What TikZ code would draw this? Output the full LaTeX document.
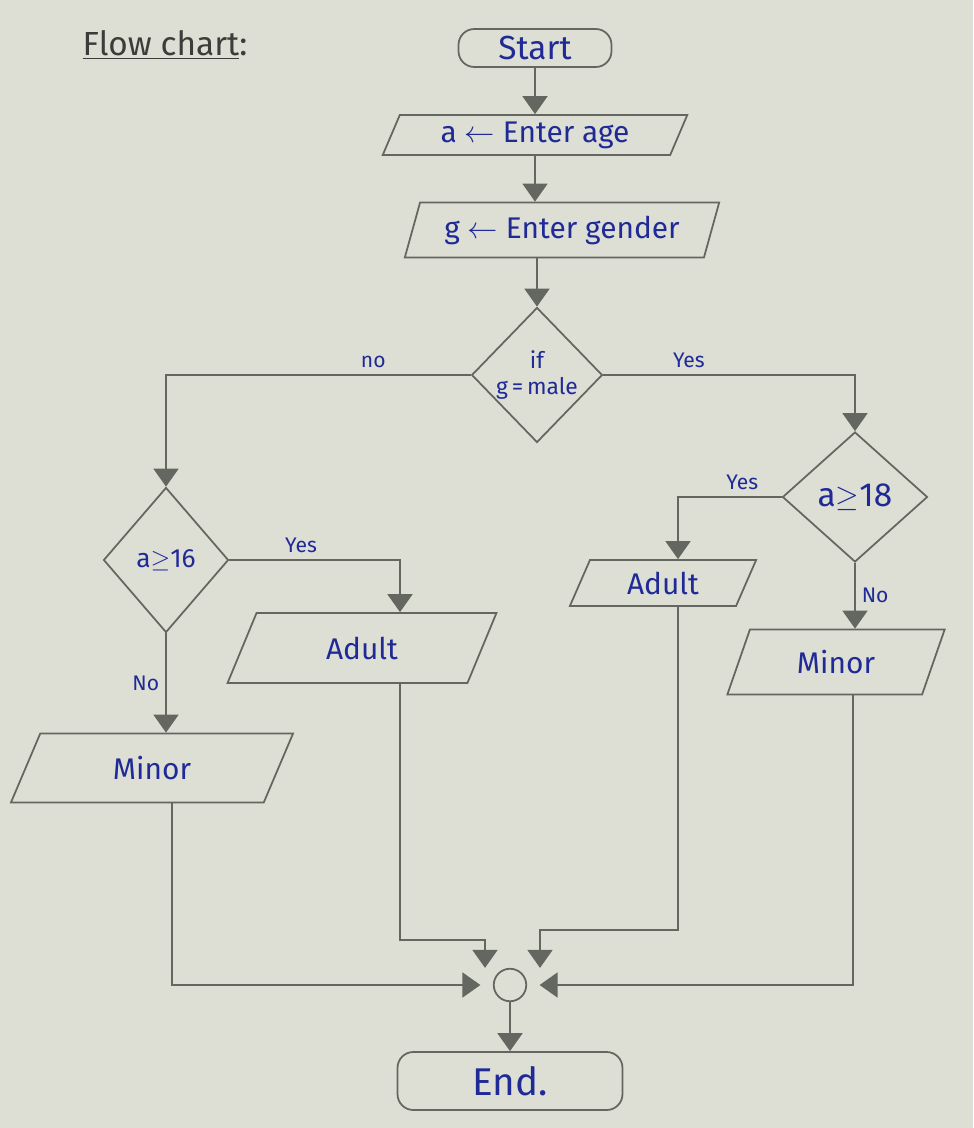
\documentclass[tikz,border=0pt]{standalone}
\usepackage{fontspec}
\setmainfont{Fira Sans}
\usetikzlibrary{positioning, shapes.geometric, arrows.meta}

\definecolor{paper}{RGB}{221,223,213}
\definecolor{pencil}{RGB}{100,102,96}
\definecolor{ink}{RGB}{32,42,150}

\begin{document}
\begin{tikzpicture}[
		x=0.02cm, y=-0.02cm,
		font=\fontsize{17}{19}\selectfont,
		term/.style={draw=pencil, line width=1pt, rectangle, rounded corners=9pt, text=ink},
		io/.style={draw=pencil, line width=1pt, trapezium, trapezium left angle=70, trapezium right angle=110, trapezium stretches=true, text=ink, inner sep=2pt},
		cond/.style={draw=pencil, line width=1pt, diamond, text=ink, align=center, inner sep=0pt},
		lbl/.style={text=ink, font=\fontsize{12}{13}\selectfont},
		arr/.style={-{Triangle[width=0.5cm, length=0.36cm]}, draw=pencil, line width=1.1pt},
	]
	\fill[paper] (0,0) rectangle (973,1128);
	\useasboundingbox (0,0) rectangle (973,1128);

	\node[text=pencil!60!black, font=\fontsize{19}{21}\selectfont] (title) at (165,45) {\underline{Flow chart}:};

	\node[term, minimum width=3.06cm, minimum height=0.76cm, font=\fontsize{19}{21}\selectfont] (start) at (535,48) {Start};
	\node[io, minimum width=6.1cm, minimum height=0.8cm] (age) at (535,135) {a $\leftarrow$ Enter age};
	\node[io, minimum width=6.3cm, minimum height=1.1cm] (gender) at (562,230) {g $\leftarrow$ Enter gender};
	\node[cond, minimum width=2.4cm, minimum height=2.7cm, font=\fontsize{13}{15}\selectfont] (male) at (537,375) {if\\g\,=\,male};
	\node[cond, minimum width=2.9cm, minimum height=2.6cm, font=\fontsize{19}{21}\selectfont] (a18) at (855,497) {a$\geq$18};
	\node[cond, minimum width=2.5cm, minimum height=2.9cm, font=\fontsize{15}{17}\selectfont] (a16) at (166,560) {a$\geq$16};

	\node[io, minimum width=5.4cm, minimum height=1.4cm] (adult1) at (362,648) {Adult};
	\node[io, minimum width=5.66cm, minimum height=1.38cm] (minor1) at (152,768) {Minor};
	\node[io, minimum width=3.74cm, minimum height=0.92cm] (adult2) at (663,583) {Adult};
	\node[io, minimum width=4.36cm, minimum height=1.3cm] (minor2) at (836,662) {Minor};

	\node[draw=pencil, line width=1pt, circle, minimum size=0.65cm] (join) at (510,985) {};
	\node[term, minimum width=4.5cm, minimum height=1.16cm, font=\fontsize{22}{24}\selectfont] (end) at (510,1081) {End.};

	\coordinate (bendA) at (485,940);
	\coordinate (bendB) at (540,930);

	\draw[arr] (start) -- (age);
	\draw[arr] (age) -- (age |- gender.north);
	\draw[arr] (gender.south -| male.north) -- (male.north);
	\draw[arr] (male.west) -| node[lbl, pos=0.16, above] {no} (a16.north);
	\draw[arr] (male.east) -| node[lbl, pos=0.17, above] {Yes} (a18.north);
	\draw[arr] (a18.west) -| node[lbl, pos=0.19, above] {Yes} ([xshift=0.3cm]adult2.north);
	\draw[arr] (a18.south) -- node[lbl, right] {No} (a18.south |- minor2.north);
	\draw[arr] (a16.east) -| node[lbl, pos=0.21, above] {Yes} ([xshift=0.76cm]adult1.north);
	\draw[arr] (a16.south) -- node[lbl, left] {No} (a16.south |- minor1.north);

	\draw[arr, shorten >=0.25cm] ([xshift=0.4cm]minor1.south) |- (join.west);
	\draw[arr] ([xshift=0.76cm]adult1.south) |- (bendA) -- (bendA |- join.north);
	\draw[arr] ([xshift=0.3cm]adult2.south) |- (bendB) -- (bendB |- join.north);
	\draw[arr, shorten >=0.25cm] ([xshift=0.34cm]minor2.south) |- (join.east);
	\draw[arr] (join) -- (end);
\end{tikzpicture}
\end{document}
